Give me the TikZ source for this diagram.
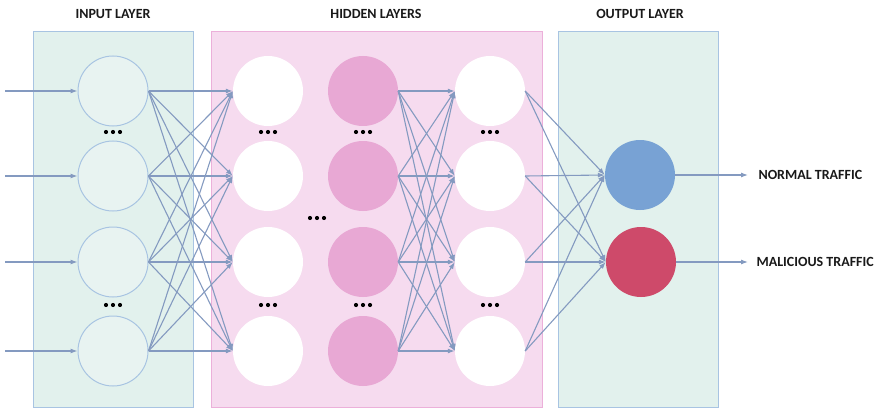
\documentclass[tikz,border=0pt]{standalone}
\usepackage{fontspec}
\setmainfont{Carlito}
\usetikzlibrary{arrows.meta}

\definecolor{tealfill}{RGB}{226,241,237}
\definecolor{blueline}{RGB}{168,196,226}
\definecolor{inode}{RGB}{232,243,241}
\definecolor{pinkfill}{RGB}{246,219,239}
\definecolor{pinkline}{RGB}{236,176,218}
\definecolor{pinknode}{RGB}{232,168,212}
\definecolor{edgecol}{RGB}{132,154,192}
\definecolor{normalc}{RGB}{120,162,212}
\definecolor{maliciousc}{RGB}{206,74,106}
\definecolor{titlec}{RGB}{25,25,25}

\tikzset{
  layerbox/.style={draw=blueline, fill=tealfill, line width=1pt},
  hiddenbox/.style={draw=pinkline, fill=pinkfill, line width=1pt},
  neuron/.style={circle, minimum size=70pt, inner sep=0pt},
  innode/.style={neuron, draw=blueline, fill=inode, line width=1pt},
  whitenode/.style={neuron, fill=white},
  pinkn/.style={neuron, fill=pinknode},
  conn/.style={draw=edgecol, line width=1.1pt, -{Latex[length=7pt,width=5pt]}},
  title/.style={font=\fontsize{14}{16}\selectfont\bfseries, text=titlec},
  outlabel/.style={font=\fontsize{14}{16}\selectfont\bfseries, text=titlec, anchor=west},
  dotmark/.style={circle, fill=black, inner sep=0pt, minimum size=4.2pt},
}

\begin{document}
\begin{tikzpicture}[x=1pt, y=-1pt]
\useasboundingbox (0,0) rectangle (880,409);

% layer panels
\draw[layerbox] (33,32) rectangle (193,407);
\draw[hiddenbox] (211,32) rectangle (542,407);
\draw[layerbox] (558,32) rectangle (718,407);

% titles
\node[title] (tin)  at (113,14) {INPUT LAYER};
\node[title] (thid) at (376,14) {HIDDEN LAYERS};
\node[title] (tout) at (640,14) {OUTPUT LAYER};

% neurons
\foreach \i/\y in {1/91,2/176,3/262,4/351} {
  \node[innode]    (in\i) at (113,\y) {};
  \node[whitenode] (ha\i) at (268,\y) {};
  \node[pinkn]     (hb\i) at (363,\y) {};
  \node[whitenode] (hc\i) at (490,\y) {};
  \coordinate (src\i) at (5,\y);
}
\node[neuron, fill=normalc]    (outn) at (640,175) {};
\node[neuron, fill=maliciousc] (outm) at (641,262) {};

% ellipsis marks
\foreach \x [count=\k] in {113,268,363,490} {
  \foreach \y [count=\r] in {132,305} {
    \foreach \d [count=\m] in {-7,0,7} {
      \node[dotmark] (dot\k\r\m) at (\x+\d,\y) {};
    }
  }
}
\foreach \d [count=\m] in {-7,0,7} {
  \node[dotmark] (mid\m) at (317+\d,218) {};
}

% inputs
\foreach \i in {1,...,4} {
  \draw[conn] (src\i) -- (in\i.west);
}

% input -> first hidden
\foreach \i in {1,...,4} {
  \foreach \j in {1,...,4} {
    \draw[conn] (in\i.east) -- (ha\j.west);
  }
}

% last two hidden columns
\foreach \i in {1,...,4} {
  \foreach \j in {1,...,4} {
    \draw[conn] (hb\i.east) -- (hc\j.west);
  }
}

% hidden -> output
\foreach \i in {1,...,4} {
  \draw[conn] (hc\i.east) -- (outn.west);
  \draw[conn] (hc\i.east) -- (outm.west);
}

% outputs
\coordinate (endn) at (748,175);
\coordinate (endm) at (748,262);
\draw[conn] (outn.east) -- (endn);
\draw[conn] (outm.east) -- (endm);
\node[outlabel] (ln) at (755,175) {NORMAL TRAFFIC};
\node[outlabel] (lm) at (753,262) {MALICIOUS TRAFFIC};
\end{tikzpicture}
\end{document}
